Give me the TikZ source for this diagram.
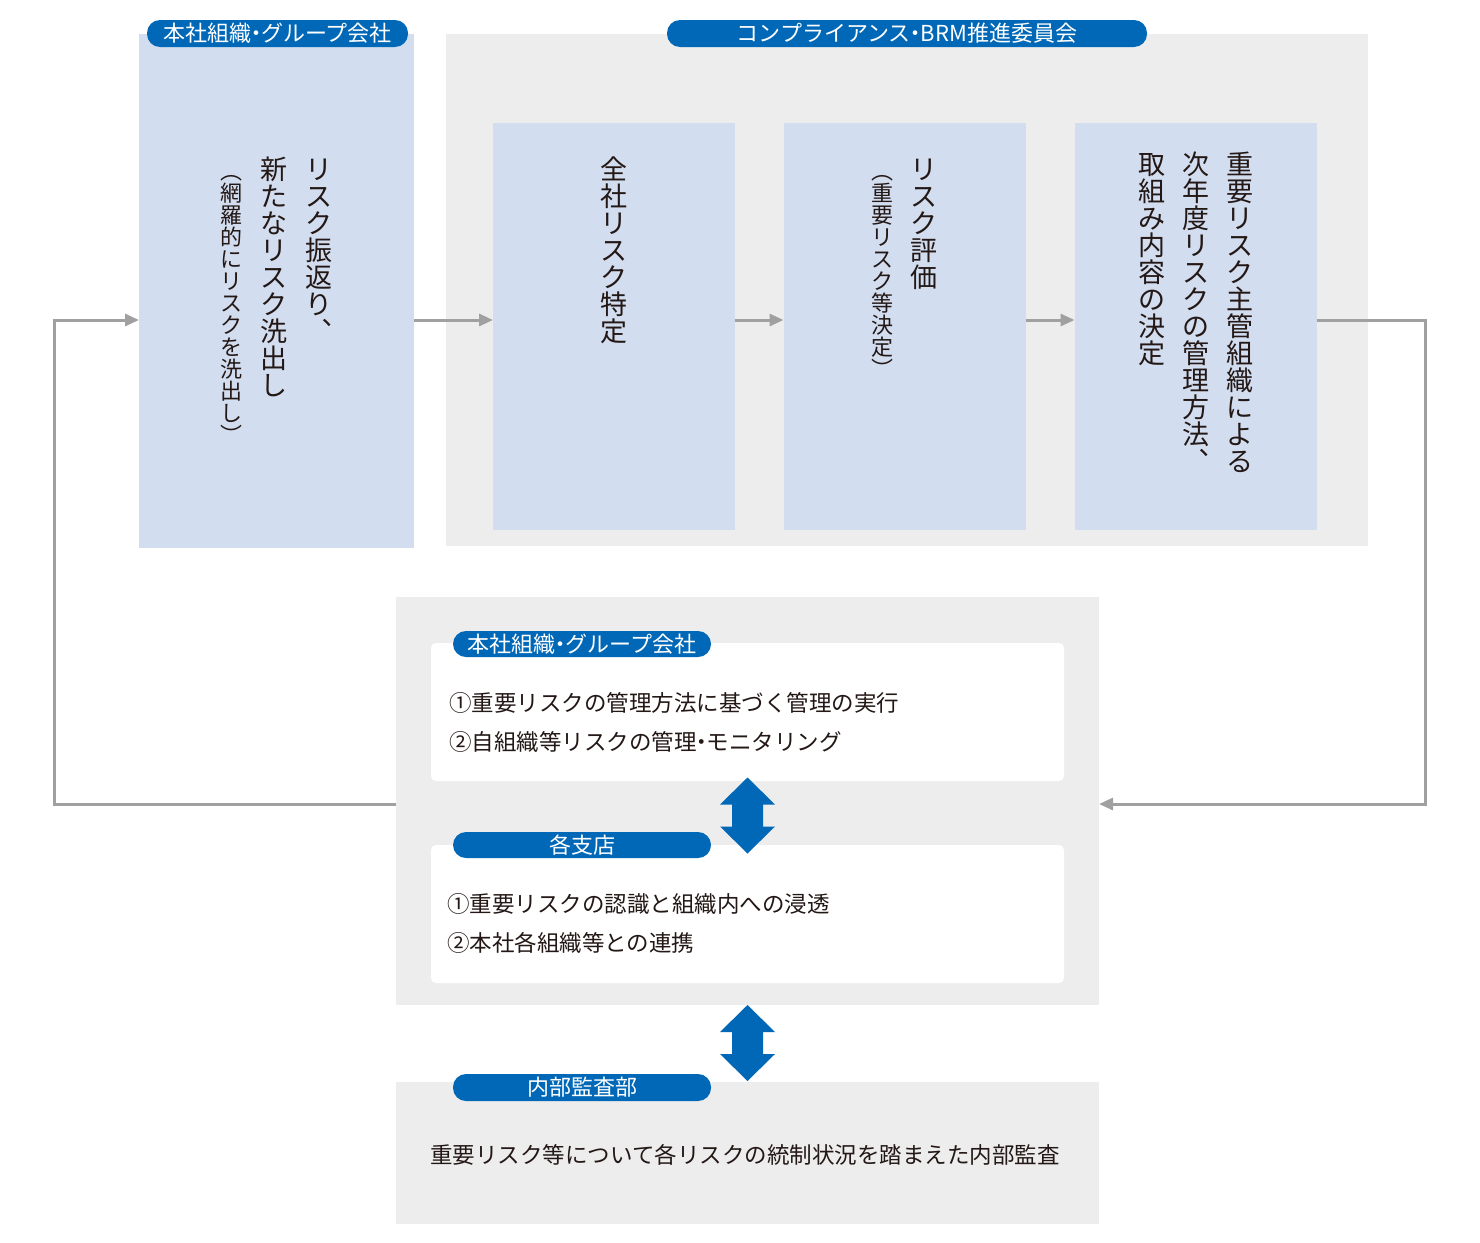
\documentclass[tikz,border=0pt]{standalone}
\usepackage{fontspec}
\setmainfont{Noto Sans CJK JP}
\usetikzlibrary{arrows.meta}
\definecolor{panel}{HTML}{EDEDED}
\definecolor{pale}{HTML}{D2DDEF}
\definecolor{tagblue}{HTML}{0068B7}
\definecolor{flowgrey}{HTML}{A0A0A0}
\definecolor{ink}{HTML}{231815}
\makeatletter
\newcommand\tate[1]{\vtop{\offinterlineskip\@tfor\tch:=#1\do{\hbox to 1em{\hss\vrule height .88em depth .12em width 0pt\tch\hss}}}}
\makeatother
\newcommand\nkg{\hbox to .45em{\hss・\hss}}
\begin{document}
\begin{tikzpicture}[x=1pt, y=-1pt,
		every node/.style={inner sep=0, outer sep=0, text=ink},
		box/.style={rectangle, fill=pale},
		zone/.style={rectangle, fill=panel},
		card/.style={rectangle, fill=white, rounded corners=5pt},
		tag/.style={rectangle, fill=tagblue, rounded corners=13pt, minimum height=27pt, text=white, font=\fontsize{22}{26}\selectfont},
		big/.style={font=\fontsize{27}{27}\selectfont},
		body/.style={font=\fontsize{22.5}{39}\selectfont},
		flow/.style={draw=flowgrey, line width=3pt, -{Triangle[length=14pt,width=12pt]}},
		updown/.pic={\fill[tagblue] (0,-38) -- (27.5,-11) -- (15.5,-11) -- (15.5,11) -- (27.5,11) -- (0,38) -- (-27.5,11) -- (-15.5,11) -- (-15.5,-11) -- (-27.5,-11) -- cycle;},
	]
	\useasboundingbox (0,0) rectangle (1480,1242);
	\coordinate (lvl) at (0,320);
	\coordinate (back) at (0,804);
	\node[box, minimum width=275pt, minimum height=514pt] (hq) at (276.5,291) {};
	\node[zone, minimum width=922pt, minimum height=512pt] (cmte) at (907,290) {};
	\node[box, minimum width=242pt, minimum height=407pt] (s1) at (614,326.5) {};
	\node[box, minimum width=242pt, minimum height=407pt] (s2) at (904.5,326.5) {};
	\node[box, minimum width=242pt, minimum height=407pt] (s3) at (1195.5,326.5) {};
	\node[tag, minimum width=261pt] (hqtag) at (277.5,33.5) {本社組織\nkg グループ会社};
	\node[tag, minimum width=480pt] (cmtetag) at (907,33.5) {コンプライアンス\nkg BRM推進委員会};
	\node[big, anchor=north] (t0) at (276.5,156) {\fontsize{22}{22}\selectfont\tate{︵網羅的にリスクを洗出し︶}\hspace{17.5pt}\fontsize{27}{27}\selectfont\tate{新たなリスク洗出し}\hspace{18pt}\tate{リスク振返り︑}};
	\node[big, anchor=north] (t1) at (614,156) {\tate{全社リスク特定}};
	\node[big, anchor=north] (t2) at (904.5,156) {\fontsize{22}{22}\selectfont\tate{︵重要リスク等決定︶}\hspace{17.5pt}\fontsize{27}{27}\selectfont\tate{リスク評価}};
	\node[big, anchor=north] (t3) at (1195.5,151) {\tate{取組み内容の決定}\hspace{17pt}\tate{次年度リスクの管理方法︑}\hspace{17pt}\tate{重要リスク主管組織による}};
	\draw[flow] (hq.east |- lvl) -- (s1.west |- lvl);
	\draw[flow] (s1.east |- lvl) -- (s2.west |- lvl);
	\draw[flow] (s2.east |- lvl) -- (s3.west |- lvl);
	\node[zone, minimum width=703pt, minimum height=408pt] (mid) at (747.5,801) {};
	\node[card, minimum width=633pt, minimum height=138pt] (hqcard) at (747.5,712) {};
	\node[card, minimum width=633pt, minimum height=138pt] (brcard) at (747.5,914) {};
	\node[tag, minimum width=258pt, minimum height=26pt] (hqtag2) at (582,644) {本社組織\nkg グループ会社};
	\node[tag, minimum width=258pt, minimum height=26pt] (brtag) at (582,845) {各支店};
	\node[body, anchor=west, align=left] (hqtext) at (449,722.5) {①重要リスクの管理方法に基づく管理の実行\\②自組織等リスクの管理\nkg モニタリング};
	\node[body, anchor=west, align=left] (brtext) at (447,923) {①重要リスクの認識と組織内への浸透\\②本社各組織等との連携};
	\node[zone, minimum width=703pt, minimum height=142pt] (audit) at (747.5,1153) {};
	\node[tag, minimum width=258pt] (audittag) at (582,1087.5) {内部監査部};
	\node[body] (audittext) at (745,1155) {重要リスク等について各リスクの統制状況を踏まえた内部監査};
	\pic at (747.5,815.5) {updown};
	\pic at (747.5,1043) {updown};
	\draw[flow] (s3.east |- lvl) -- ++(109,0) |- (mid.east |- back);
	\draw[flow] (mid.west |- back) -- ++(-342,0) |- (hq.west |- lvl);
\end{tikzpicture}
\end{document}
